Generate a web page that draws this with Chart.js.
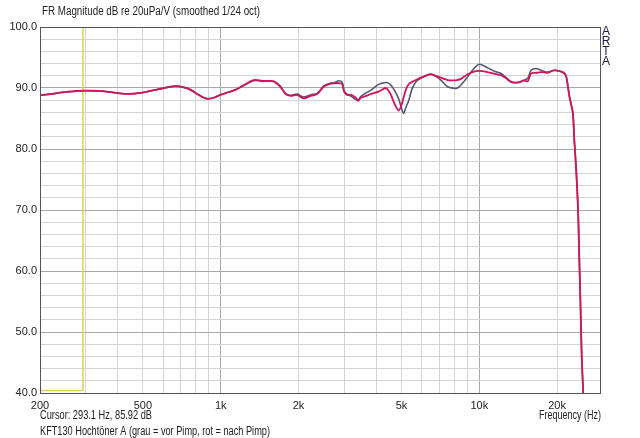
<!DOCTYPE html>
<html>
<head>
<meta charset="utf-8">
<script src="https://cdn.jsdelivr.net/npm/chart.js@4.4.1/dist/chart.umd.min.js"></script>
<style>
  html, body { margin: 0; padding: 0; background: #fff; }
  #wrap { width: 640px; height: 438px; position: relative; }
</style>
</head>
<body>
<div id="wrap"><canvas id="fr"></canvas></div>
<script>
// Frequency points (Hz), shared by both measurements
const freqs = [
  200, 220, 240, 260, 290, 320, 345, 380, 430, 470, 520, 560, 620, 670, 720, 765, 820, 885, 940, 1000,
  1070, 1140, 1230, 1340, 1450, 1600, 1700, 1780, 1860, 1980, 2090, 2230, 2360, 2500, 2610, 2760, 2860, 2950,
  3000, 3080, 3180, 3330, 3400, 3480, 3650, 3800, 4080, 4350, 4450, 4550, 4700, 4880, 5000, 5100, 5200, 5340,
  5500, 5680, 5940, 6200, 6480, 6800, 7100, 7540, 7980, 8200, 8490, 9020, 9540, 10000, 10770, 11500, 12130,
  12700, 13270, 14090, 14900, 15400, 15860, 16580, 17340, 18400, 19460, 20720, 21300, 21700, 22300, 23000,
  23300, 23700, 24100, 24300, 24600, 24900, 25200, 25400
];
// rot = nach Pimp
const nachPimp = [
  88.8, 89.0, 89.25, 89.4, 89.55, 89.55, 89.5, 89.3, 89.05, 89.1, 89.4, 89.7, 90.1, 90.3, 90.1, 89.7, 88.9, 88.25, 88.4, 88.9,
  89.3, 89.7, 90.5, 91.3, 91.15, 91.1, 90.2, 89.1, 88.7, 88.85, 88.3, 88.7, 89.0, 90.2, 90.6, 90.8, 90.8, 90.6,
  89.4, 88.85, 88.9, 88.4, 87.9, 88.4, 88.7, 89.0, 89.4, 90.0, 89.6, 88.9, 87.4, 86.3, 87.2, 88.5, 89.7, 90.65,
  91.0, 91.3, 91.7, 92.0, 92.25, 92.0, 91.7, 91.3, 91.26, 91.3, 91.5, 92.25, 92.7, 92.8, 92.6, 92.3, 92.1,
  91.6, 91.0, 90.9, 91.2, 91.1, 92.4, 92.5, 92.6, 92.5, 92.9, 92.7, 92.4, 91.85, 88.6, 85.85,
  81.5, 76.6, 70.0, 64.0, 55.2, 46.0, 40.5, 36.0
];
// grau = vor Pimp
const vorPimp = [
  88.8, 89.0, 89.25, 89.4, 89.55, 89.55, 89.5, 89.3, 89.05, 89.1, 89.4, 89.7, 90.1, 90.3, 90.1, 89.7, 88.9, 88.25, 88.4, 88.9,
  89.3, 89.7, 90.4, 91.2, 91.15, 91.1, 90.3, 89.0, 88.8, 89.0, 88.5, 88.9, 89.1, 90.3, 90.7, 90.9, 91.2, 90.9,
  89.6, 89.0, 88.7, 88.1, 88.0, 88.6, 89.2, 89.6, 90.6, 90.9, 90.8, 90.5, 89.6, 88.2, 86.7, 85.85, 86.8, 88.0,
  89.9, 91.0, 91.6, 92.0, 92.3, 91.9, 91.3, 90.2, 89.95, 89.95, 90.5, 91.85, 93.2, 93.9, 93.3, 92.7, 92.4,
  91.7, 91.0, 90.9, 91.3, 91.6, 92.9, 93.2, 92.9, 92.6, 92.9, 92.7, 92.5, 91.9, 88.8, 86.0,
  81.6, 76.7, 70.1, 64.0, 55.2, 46.0, 40.6, 36.0
];

// Cursor
const cursorFreq = 293.1;
const cursorLevel = 85.92;
const cursorFloor = 40.4;

// Axes
const xMin = 200, xMax = 29300;
const yMin = 40, yMax = 100;
const gridFreqs = [200, 300, 400, 500, 600, 700, 800, 900, 1000, 2000, 3000, 4000, 5000, 6000, 7000, 8000, 9000, 10000, 20000];
const xTickValues = [200, 500, 1000, 2000, 5000, 10000, 20000];
const xTickLabels = ['200', '500', '1k', '2k', '5k', '10k', '20k'];
const decadeFreqs = [1000, 10000];

const FONT = '"Liberation Sans", Arial, sans-serif';

const textPlugin = {
  id: 'artaText',
  afterDraw(chart) {
    const { ctx, chartArea: a } = chart;
    ctx.save();
    ctx.strokeStyle = '#555';
    ctx.lineWidth = 1;
    ctx.strokeRect(a.left + 0.5, a.top + 0.5, a.right - a.left, a.bottom - a.top);

    ctx.fillStyle = '#222';
    ctx.textBaseline = 'middle';
    ctx.font = '12px ' + FONT;
    ctx.textAlign = 'left';
    ctx.fillText('FR Magnitude dB re 20uPa/V (smoothed 1/24 oct)', a.left + 2, a.top - 15, 218);
    ctx.fillText('Cursor: ' + cursorFreq.toFixed(1) + ' Hz, ' + cursorLevel.toFixed(2) + ' dB', a.left, a.bottom + 23, 112);
    ctx.fillText('KFT130 Hochtöner A (grau = vor Pimp, rot = nach Pimp)', a.left, a.bottom + 39, 230);
    ctx.textAlign = 'right';
    ctx.fillText('Frequency (Hz)', a.right + 1, a.bottom + 23, 62);

    ctx.fillStyle = '#1c1c44';
    ctx.textAlign = 'center';
    ctx.font = '12px ' + FONT;
    ['A', 'R', 'T', 'A'].forEach((ch, i) => ctx.fillText(ch, a.right + 6, a.top + 5 + i * 10));
    ctx.restore();
  }
};

const toPoints = (vals) => freqs.map((f, i) => ({ x: f, y: vals[i] }));

new Chart(document.getElementById('fr'), {
  type: 'line',
  data: {
    datasets: [
      {
        label: 'nach Pimp',
        data: toPoints(nachPimp),
        borderColor: '#d3145c',
        borderWidth: 1.8,
        pointRadius: 0,
        tension: 0.3,
        order: 0
      },
      {
        label: 'vor Pimp',
        data: toPoints(vorPimp),
        borderColor: '#565672',
        borderWidth: 1.6,
        pointRadius: 0,
        tension: 0.3,
        order: 1
      },
      {
        label: 'Cursor',
        data: [
          { x: xMin, y: cursorFloor },
          { x: cursorFreq, y: cursorFloor },
          { x: cursorFreq, y: yMax }
        ],
        borderColor: '#d6d64a',
        borderWidth: 1.5,
        pointRadius: 0,
        tension: 0,
        order: 2
      }
    ]
  },
  options: {
    responsive: true,
    maintainAspectRatio: false,
    animation: false,
    events: [],
    layout: { padding: { top: 27, right: 40, bottom: 0, left: 0 } },
    plugins: {
      legend: { display: false },
      tooltip: { enabled: false }
    },
    scales: {
      x: {
        type: 'logarithmic',
        min: xMin,
        max: xMax,
        afterBuildTicks: (s) => { s.ticks = gridFreqs.map(v => ({ value: v })); },
        afterFit: (s) => { s.height = 45; },
        border: { display: false },
        grid: {
          drawTicks: false,
          color: (c) => decadeFreqs.includes(c.tick.value) ? '#a8a8a8' : '#d4d4d4',
          lineWidth: 1
        },
        ticks: {
          autoSkip: false,
          maxRotation: 0,
          padding: 6,
          color: '#222',
          font: { family: FONT, size: 11 },
          callback: (v) => {
            const i = xTickValues.indexOf(v);
            return i >= 0 ? xTickLabels[i] : '';
          }
        }
      },
      y: {
        type: 'linear',
        min: yMin,
        max: yMax,
        afterFit: (s) => { s.width = 40; },
        border: { display: false },
        grid: {
          drawTicks: false,
          color: (c) => c.tick.value % 10 === 0 ? '#a8a8a8' : '#d4d4d4',
          lineWidth: 1
        },
        ticks: {
          stepSize: 2,
          autoSkip: false,
          padding: 3,
          color: '#222',
          font: { family: FONT, size: 11 },
          callback: (v) => v % 10 === 0 ? v.toFixed(1) : ''
        }
      }
    }
  },
  plugins: [textPlugin]
});
</script>
</body>
</html>
